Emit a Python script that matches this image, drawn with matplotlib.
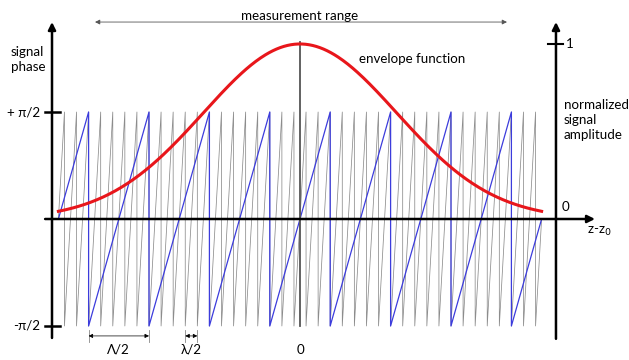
import numpy as np
import matplotlib.pyplot as plt

# ===== Data (z in units of Lambda/2, phase in units of pi/2) =====
z_start, z_end = -4.0, 4.0
blue_drops = [-3.5, -2.5, -1.5, -0.5, 0.5, 1.5, 2.5, 3.5]   # Lambda/2 period
black_period = 0.2                                           # lambda/2 = (Lambda/2)/5
envelope_peak = 1.0
envelope_sigma = 1.6
amp_scale = 1.636   # amplitude 1 drawn at this phase height

phase_labels = ["+ \u03c0/2", "-\u03c0/2"]
phase_ticks = [1, -1]


def sawtooth_vertices(drops):
    xs, ys = [z_start], [0.0]
    for d in drops:
        xs += [d, d]
        ys += [1.0, -1.0]
    xs.append(z_end)
    ys.append(0.0)
    return xs, ys


plt.rcParams['font.family'] = ['Lato', 'DejaVu Sans']
fs = 9.6
fig = plt.figure(figsize=(6.29, 3.60), dpi=100)
ax = fig.add_axes([0, 0, 1, 1])
ax.set_xlim(-4.967, 5.447)
ax.set_ylim(-1.318, 2.047)
ax.axis("off")

# ===== Sawtooth phases =====
black_drops = np.arange(-3.9, 4.0, black_period)
bx, by = sawtooth_vertices(black_drops)
ax.plot(bx, by, color="#8c8c8c", lw=0.55, zorder=1)
qx, qy = sawtooth_vertices(blue_drops)
ax.plot(qx, qy, color="#3c3cdc", lw=0.9, zorder=2)

# centre line
ax.plot([0, 0], [-1.0, 1.654], color="#555555", lw=1.3, zorder=2)

# ===== Envelope =====
z = np.linspace(z_start, z_end, 400)
env = envelope_peak * np.exp(-z**2 / (2 * envelope_sigma**2))
ax.plot(z, env * amp_scale, color="#e8161b", lw=2.2, zorder=4)

# ===== Axes =====
ar = dict(arrowstyle="-|>", color="black", lw=1.8, mutation_scale=11, shrinkA=0, shrinkB=0)
ax.annotate("", xy=(-4.106, 1.841), xytext=(-4.106, -1.112), arrowprops=ar, zorder=5)
ax.annotate("", xy=(4.238, 1.841), xytext=(4.238, -1.12), arrowprops=ar, zorder=5)
ax.annotate("", xy=(4.884, 0), xytext=(-4.22, 0), arrowprops=ar, zorder=5)
for t in phase_ticks:
    ax.plot([-4.23, -3.98], [t, t], color="black", lw=1.8, zorder=5)
ax.plot([4.11, 4.36], [amp_scale, amp_scale], color="black", lw=1.5, zorder=5)

# measurement range
rng = dict(arrowstyle="<|-|>", color="#555555", lw=0.6, mutation_scale=7, shrinkA=0, shrinkB=0)
ax.annotate("", xy=(3.427, 1.841), xytext=(-3.394, 1.841), arrowprops=rng)
ax.text(0, 1.90, "measurement range", ha="center", va="center", fontsize=fs)

# dimension arrows
dim = dict(arrowstyle="<|-|>", color="black", lw=0.5, mutation_scale=6, shrinkA=0, shrinkB=0)
ax.annotate("", xy=(-2.5, -1.093), xytext=(-3.5, -1.093), arrowprops=dim)
ax.annotate("", xy=(-1.7, -1.093), xytext=(-1.9, -1.093), arrowprops=dim)
for xv in [-3.5, -2.5, -1.9, -1.7]:
    ax.plot([xv, xv], [-1.04, -1.15], color="#888888", lw=0.6)
ax.text(-3.0, -1.224, "\u039b/2", ha="center", va="center", fontsize=fs)
ax.text(-1.8, -1.224, "\u03bb/2", ha="center", va="center", fontsize=fs)
ax.text(0, -1.224, "0", ha="center", va="center", fontsize=fs)

# ===== Labels =====
ax.text(-4.785, 1.495, "signal\nphase", ha="left", va="center", fontsize=fs, linespacing=1.3)
for t, lab in zip(phase_ticks, phase_labels):
    ax.text(-4.30, t, lab, ha="right", va="center", fontsize=fs)
ax.text(1.854, 1.495, "envelope function", ha="center", va="center", fontsize=fs)
ax.text(4.371, 0.925, "normalized\nsignal\namplitude", ha="left", va="center", fontsize=fs, linespacing=1.3)
ax.text(4.40, amp_scale, "1", ha="left", va="center", fontsize=fs)
ax.text(4.33, 0.112, "0", ha="left", va="center", fontsize=fs)
ax.text(4.75, -0.121, "z-z$_0$", ha="left", va="center", fontsize=fs)

fig.savefig("out.png", dpi=100)
